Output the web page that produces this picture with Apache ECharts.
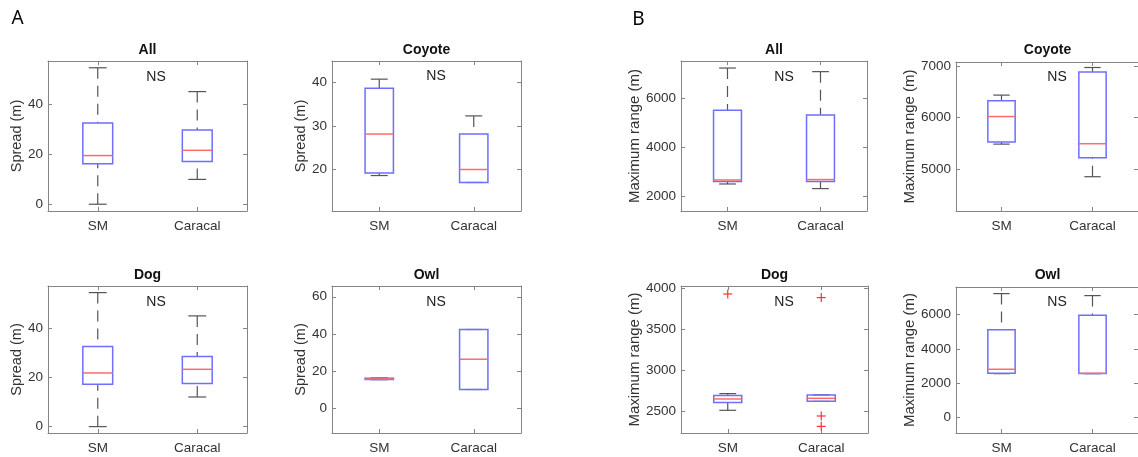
<!DOCTYPE html>
<html>
<head>
<meta charset="utf-8">
<script src="https://cdn.jsdelivr.net/npm/echarts@6/dist/echarts.min.js"></script>
<style>
html,body{margin:0;padding:0;background:#fff;}
#chart{width:1138px;height:457px;}
</style>
</head>
<body>
<div id="chart"></div>
<script>
// ---------------- DATA ----------------
const categories = ['SM', 'Caracal'];
const panelTitles = ['All', 'Coyote', 'Dog', 'Owl', 'All', 'Coyote', 'Dog', 'Owl'];
const yNames = ['Spread (m)', 'Maximum range (m)'];
const panelLetters = ['A', 'B'];
const sigLabel = 'NS';

// each row: [lower whisker, Q1, median, Q3, upper whisker] for SM, Caracal
const spreadAll    = [[0, 16.1, 19.4, 32.4, 54.4], [9.9, 17.0, 21.5, 29.6, 44.9]];
const spreadCoyote = [[18.5, 19.1, 28.1, 38.7, 40.8], [16.9, 16.9, 19.9, 28.1, 32.3]];
const spreadDog    = [[0, 17.3, 21.9, 32.7, 54.7], [12.1, 17.6, 23.4, 28.6, 45.2]];
const spreadOwl    = [[15.4, 15.5, 15.8, 16.2, 16.3], [10.1, 10.1, 26.4, 42.4, 42.4]];
const rangeAll     = [[2492, 2590, 2656, 5508, 7242], [2303, 2590, 2672, 5316, 7094]];
const rangeCoyote  = [[5483, 5522, 6019, 6324, 6435], [4850, 5219, 5491, 6882, 6971]];
const rangeDog     = [[2512, 2606, 2650, 2691, 2715], [2620, 2622, 2658, 2698, 2700]];
const rangeOwl     = [[2550, 2573, 2807, 5123, 7228], [2550, 2560, 2573, 5959, 7111]];

// outliers: [category index, value]
const rangeDogOutliers = [[0, 3927], [1, 3883], [1, 2443], [1, 2317]];

// axis ranges and tick labels
const spreadAllRange = [-2.7, 57.1],   spreadAllTicks = [0, 20, 40];
const spreadCoyoteRange = [10.3, 45],  spreadCoyoteTicks = [20, 30, 40];
const spreadDogRange = [-2.6, 57.4],   spreadDogTicks = [0, 20, 40];
const spreadOwlRange = [-13.3, 65.8],  spreadOwlTicks = [0, 20, 40, 60];
const rangeAllRange = [1385, 7530],    rangeAllTicks = [2000, 4000, 6000];
const rangeCoyoteRange = [4184, 7078], rangeCoyoteTicks = [5000, 6000, 7000];
const rangeDogRange = [2236, 4024],    rangeDogTicks = [2500, 3000, 3500, 4000];
const rangeOwlRange = [-918, 7614],    rangeOwlTicks = [0, 2000, 4000, 6000];

// ---------------- LAYOUT ----------------
const panels = [
  {data: spreadAll,    range: spreadAllRange,    ticks: spreadAllTicks,    yName: 0},
  {data: spreadCoyote, range: spreadCoyoteRange, ticks: spreadCoyoteTicks, yName: 0},
  {data: spreadDog,    range: spreadDogRange,    ticks: spreadDogTicks,    yName: 0},
  {data: spreadOwl,    range: spreadOwlRange,    ticks: spreadOwlTicks,    yName: 0},
  {data: rangeAll,     range: rangeAllRange,     ticks: rangeAllTicks,     yName: 1},
  {data: rangeCoyote,  range: rangeCoyoteRange,  ticks: rangeCoyoteTicks,  yName: 1},
  {data: rangeDog,     range: rangeDogRange,     ticks: rangeDogTicks,     yName: 1, outliers: rangeDogOutliers},
  {data: rangeOwl,     range: rangeOwlRange,     ticks: rangeOwlTicks,     yName: 1}
];
const layout = [
  {left: 48,  top: 61,  width: 199, height: 150, gap: 20.5, tY: 50.5, nsX: 156,  nsY: 77},
  {left: 332, top: 61,  width: 189, height: 150, gap: 24,   tY: 50.5, nsX: 436,  nsY: 76.5},
  {left: 48,  top: 286, width: 199, height: 147, gap: 20.5, tY: 275,  nsX: 156,  nsY: 302},
  {left: 332, top: 286, width: 189, height: 147, gap: 24,   tY: 275,  nsX: 436,  nsY: 302.5},
  {left: 681, top: 61,  width: 186, height: 150, gap: 36.5, tY: 50.5, nsX: 784,  nsY: 77.5},
  {left: 956, top: 62,  width: 183, height: 149, gap: 37.5, tY: 50.5, nsX: 1057, nsY: 77},
  {left: 681, top: 286, width: 187, height: 147, gap: 36.5, tY: 275,  nsX: 784,  nsY: 302.5},
  {left: 956, top: 287, width: 183, height: 146, gap: 37.5, tY: 275,  nsX: 1057, nsY: 302.5}
];

const FONT = 'Liberation Sans, Arial, sans-serif';
const AXIS_COLOR = '#858585';
const TEXT_COLOR = '#333333';
const BOX_COLOR = '#6e6eff';
const MED_COLOR = '#ff6b6b';
const WHISK_COLOR = '#555555';
const OUT_COLOR = '#ff3030';

function renderBox(params, api) {
  const k = api.value(0);
  const lo = api.coord([k, api.value(1)]);
  const q1 = api.coord([k, api.value(2)]);
  const md = api.coord([k, api.value(3)]);
  const q3 = api.coord([k, api.value(4)]);
  const hi = api.coord([k, api.value(5)]);
  const band = api.size([1, 0])[0];
  const bw = band * 0.3, cw = bw * 0.6;
  const cx = md[0];
  const wStyle = {stroke: WHISK_COLOR, lineWidth: 1.2, lineDash: [11, 7], fill: null};
  const cStyle = {stroke: WHISK_COLOR, lineWidth: 1.2, fill: null};
  const children = [];
  if (hi[1] < q3[1] - 0.5) children.push({type: 'line', shape: {x1: cx, y1: hi[1], x2: cx, y2: q3[1]}, style: wStyle});
  if (lo[1] > q1[1] + 0.5) children.push({type: 'line', shape: {x1: cx, y1: lo[1], x2: cx, y2: q1[1]}, style: wStyle});
  children.push({type: 'line', shape: {x1: cx - cw / 2, y1: hi[1], x2: cx + cw / 2, y2: hi[1]}, style: cStyle});
  children.push({type: 'line', shape: {x1: cx - cw / 2, y1: lo[1], x2: cx + cw / 2, y2: lo[1]}, style: cStyle});
  children.push({type: 'rect', shape: {x: cx - bw / 2, y: q3[1], width: bw, height: Math.max(q1[1] - q3[1], 1)},
    style: {fill: null, stroke: BOX_COLOR, lineWidth: 1.5}});
  children.push({type: 'line', shape: {x1: cx - bw / 2, y1: md[1], x2: cx + bw / 2, y2: md[1]},
    style: {stroke: MED_COLOR, lineWidth: 1.5, fill: null}});
  return {type: 'group', children: children};
}

function renderPlus(params, api) {
  const p = api.coord([api.value(0), api.value(1)]);
  const h = 4.5;
  const st = {stroke: OUT_COLOR, lineWidth: 1.2, fill: null};
  return {type: 'group', children: [
    {type: 'line', shape: {x1: p[0] - h, y1: p[1], x2: p[0] + h, y2: p[1]}, style: st},
    {type: 'line', shape: {x1: p[0], y1: p[1] - h, x2: p[0], y2: p[1] + h}, style: st}
  ]};
}

const grids = [], xAxes = [], yAxes = [], series = [], graphics = [];
panels.forEach((p, i) => {
  const L = layout[i];
  grids.push({left: L.left, top: L.top, width: L.width, height: L.height});
  const xBase = {
    type: 'category', gridIndex: i, data: categories,
    axisLine: {show: true, onZero: false, lineStyle: {color: AXIS_COLOR, width: 1}},
    axisTick: {show: true, inside: true, alignWithLabel: true, length: 4, lineStyle: {color: AXIS_COLOR}},
    splitLine: {show: false}
  };
  xAxes.push(Object.assign({}, xBase, {position: 'bottom',
    axisLabel: {show: true, margin: 8, color: TEXT_COLOR, fontSize: 13.5, fontFamily: FONT}}));
  xAxes.push(Object.assign({}, xBase, {position: 'top', axisLabel: {show: false}}));
  const yBase = {
    type: 'value', gridIndex: i, min: p.range[0], max: p.range[1],
    axisLine: {show: true, onZero: false, lineStyle: {color: AXIS_COLOR, width: 1}},
    axisTick: {show: true, inside: true, length: 4, customValues: p.ticks, lineStyle: {color: AXIS_COLOR}},
    splitLine: {show: false}
  };
  yAxes.push(Object.assign({}, yBase, {position: 'left',
    axisLabel: {show: true, margin: 5, color: TEXT_COLOR, fontSize: 13.5, fontFamily: FONT, customValues: p.ticks,
      formatter: v => String(v)},
    name: yNames[p.yName], nameLocation: 'middle', nameGap: L.gap,
    nameTextStyle: {color: TEXT_COLOR, fontSize: p.yName === 0 ? 14.5 : 15, fontFamily: FONT}}));
  yAxes.push(Object.assign({}, yBase, {position: 'right', axisLabel: {show: false}}));
  series.push({
    type: 'custom', xAxisIndex: 2 * i, yAxisIndex: 2 * i,
    data: p.data.map((d, k) => [k].concat(d)),
    encode: {x: 0, y: [1, 2, 3, 4, 5]},
    renderItem: renderBox, silent: true, clip: false
  });
  if (p.outliers) {
    series.push({
      type: 'custom', xAxisIndex: 2 * i, yAxisIndex: 2 * i,
      data: p.outliers, encode: {x: 0, y: 1},
      renderItem: renderPlus, silent: true, clip: false
    });
  }
  graphics.push({type: 'text', x: L.left + L.width / 2, y: L.tY,
    style: {text: panelTitles[i], font: 'bold 14px ' + FONT, fill: '#111', align: 'center', verticalAlign: 'middle'}});
  graphics.push({type: 'text', x: L.nsX, y: L.nsY,
    style: {text: sigLabel, font: '14px ' + FONT, fill: '#222', align: 'center', verticalAlign: 'middle'}});
});
graphics.push({type: 'text', x: 17.5, y: 19,
  style: {text: panelLetters[0], font: '19px Noto Sans, sans-serif', fill: '#000', align: 'center', verticalAlign: 'middle'}});
graphics.push({type: 'text', x: 638.5, y: 20,
  style: {text: panelLetters[1], font: '19px Noto Sans, sans-serif', fill: '#000', align: 'center', verticalAlign: 'middle'}});

const chart = echarts.init(document.getElementById('chart'), null, {renderer: 'canvas'});
chart.setOption({
  animation: false,
  backgroundColor: '#fff',
  grid: grids,
  xAxis: xAxes,
  yAxis: yAxes,
  series: series,
  graphic: graphics
});
</script>
</body>
</html>
